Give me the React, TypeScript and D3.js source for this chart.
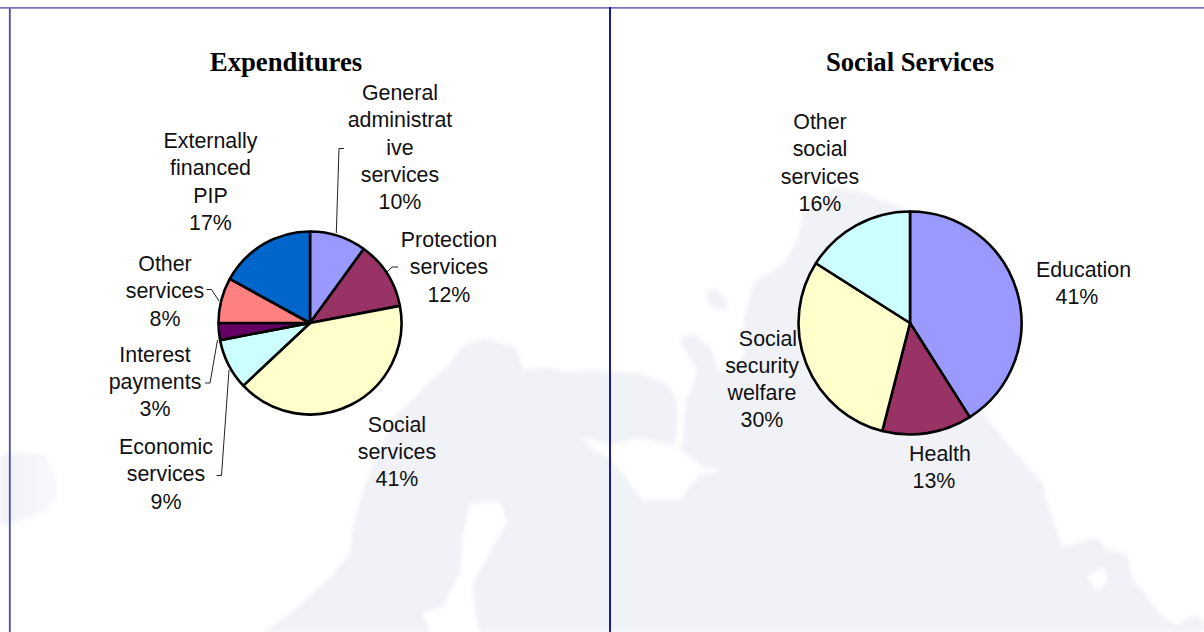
import React from "react";
import * as d3 from "d3";

// Budget shares, in percent, clockwise from twelve o'clock
const expenditureCategories = ["General administrative services", "Protection services", "Social services", "Economic services", "Interest payments", "Other services", "Externally financed PIP"];
const expenditureValues = [10, 12, 41, 9, 3, 8, 17];
const expenditureColors = ["#9999FF", "#993366", "#FFFFCC", "#CCFFFF", "#660066", "#FF8080", "#0066CC"];

const socialCategories = ["Education", "Health", "Social security welfare", "Other social services"];
const socialValues = [41, 13, 30, 16];
const socialColors = ["#9999FF", "#993366", "#FFFFCC", "#CCFFFF"];

type Label = { lines: string[]; x: number; y: number; dx?: number[] };

const LINE_STEP = 27.3;

const expenditureLabels: Label[] = [
  { lines: ["General", "administrat", "ive", "services", "10%"], x: 400, y: 100 },
  { lines: ["Protection", "services", "12%"], x: 449, y: 247 },
  { lines: ["Social", "services", "41%"], x: 397, y: 431.7 },
  { lines: ["Economic", "services", "9%"], x: 166, y: 454 },
  { lines: ["Interest", "payments", "3%"], x: 155, y: 361.5 },
  { lines: ["Other", "services", "8%"], x: 165, y: 271 },
  { lines: ["Externally", "financed", "PIP", "17%"], x: 210.5, y: 148 },
];

const socialLabels: Label[] = [
  { lines: ["Education", "41%"], x: 1083.5, y: 277, dx: [0, -6.5] },
  { lines: ["Health", "13%"], x: 940, y: 461, dx: [0, -6] },
  { lines: ["Social", "security", "welfare", "30%"], x: 762, y: 345.5, dx: [6, 0, 0, 0] },
  { lines: ["Other", "social", "services", "16%"], x: 820, y: 129 },
];

// Elbow connectors from outlying labels to their slices
const leaderLines: [number, number][][] = [
  [[344, 148.5], [339, 148.5], [336.3, 233]],
  [[398, 267], [392, 267], [387, 272]],
  [[206.5, 289.5], [211.5, 289.5], [219, 301]],
  [[205, 383], [210, 383], [217.5, 340]],
  [[216.5, 475.5], [221.5, 475.5], [229, 370]],
];

// Faint backdrop map: landmass, outlying island shapes and inland seas
const landmass: [number, number][] = [
  [263, 632], [295, 610], [330, 577], [350, 553], [353, 527], [363, 490], [380, 450], [397, 413], [413, 400], [427, 383],
  [447, 367], [463, 345], [485, 338], [517, 348], [523, 370], [547, 367], [567, 372], [593, 370], [611, 372], [637, 373],
  [667, 383], [677, 400], [690, 395], [697, 370], [679, 340], [694, 333], [712, 350], [720, 375], [744, 357], [744, 317],
  [754, 283], [784, 263], [797, 240], [804, 213], [834, 187], [861, 192], [881, 200], [904, 207], [950, 300], [983, 413],
  [1013, 450], [1043, 483], [1047, 503], [1063, 547], [1097, 537], [1107, 550], [1127, 553], [1133, 580], [1163, 617],
  [1177, 625], [1193, 615], [1204, 620], [1204, 632],
];
const islands: [number, number][][] = [
  [[706, 292], [716, 288], [726, 300], [727, 310], [714, 308], [708, 302]],
];
const westernShore: [number, number][] = [
  [0, 455], [20, 452], [45, 455], [55, 475], [58, 495], [45, 512], [20, 522], [0, 525],
];
const seas: [number, number][][] = [
  [[470, 503], [500, 502], [507, 523], [493, 547], [473, 583], [475, 613], [480, 632], [430, 632], [422, 613], [443, 607], [460, 573], [463, 533]],
  [[580, 437], [610, 445], [638, 438], [677, 447], [702, 467], [723, 470], [700, 475], [679, 500], [642, 500], [623, 473], [610, 458], [593, 450]],
  [[677, 398], [686, 400], [684, 425], [682, 447], [675, 445], [678, 420]],
  [[1087, 577], [1103, 567], [1108, 580], [1097, 592]],
];

const LAND = "#F0F2F7";

const outline = d3.line<[number, number]>().curve(d3.curveLinearClosed);
const leader = d3.line<[number, number]>();

function Pie({ values, colors, cx, cy, r }: { values: number[]; colors: string[]; cx: number; cy: number; r: number }) {
  const slices = d3.pie<number>().sort(null)(values);
  const arc = d3.arc<d3.PieArcDatum<number>>().innerRadius(0).outerRadius(r);
  return (
    <g transform={`translate(${cx},${cy})`}>
      {slices.map((s, i) => (
        <path key={i} d={arc(s) ?? ""} fill={colors[i]} stroke="#000" strokeWidth={2.6} strokeLinejoin="round" />
      ))}
    </g>
  );
}

function Labels({ items }: { items: Label[] }) {
  return (
    <g fontFamily="'Liberation Sans', Arial, sans-serif" fontSize={21.4} fill="#111" textAnchor="middle">
      {items.map((l, i) =>
        l.lines.map((t, j) => (
          <text key={`${i}-${j}`} x={l.x + (l.dx?.[j] ?? 0)} y={l.y + j * LINE_STEP}>{t}</text>
        ))
      )}
    </g>
  );
}

export default function App() {
  return (
    <svg width={1204} height={632} viewBox="0 0 1204 632" style={{ position: "absolute", left: 0, top: 0, display: "block", background: "#fff" }}>
      <defs>
        <filter id="soft" x="-5%" y="-5%" width="110%" height="110%">
          <feGaussianBlur stdDeviation={2} />
        </filter>
        <linearGradient id="shore" x1="0" x2="1" y1="0" y2="0">
          <stop offset="0" stopColor={LAND} />
          <stop offset="1" stopColor="#F8F9FC" />
        </linearGradient>
      </defs>

      <g filter="url(#soft)">
        <path d={outline(westernShore) ?? ""} fill="url(#shore)" />
        <path d={outline(landmass) ?? ""} fill={LAND} />
        {islands.map((p, i) => <path key={i} d={outline(p) ?? ""} fill={LAND} />)}
        {seas.map((p, i) => <path key={i} d={outline(p) ?? ""} fill="#FFFFFF" />)}
      </g>

      <line x1={9.8} y1={7} x2={9.8} y2={632} stroke="#4A4AB4" strokeWidth={1.8} />
      <line x1={0} y1={7.8} x2={1204} y2={7.8} stroke="#7575B8" strokeWidth={1.8} />
      <line x1={610} y1={7} x2={610} y2={632} stroke="#1A1A9C" strokeWidth={2} />

      <g fontFamily="'Liberation Serif', 'Times New Roman', serif" fontSize={26.7} fontWeight="bold" fill="#000" textAnchor="middle">
        <text x={286} y={71}>Expenditures</text>
        <text x={910} y={71}>Social Services</text>
      </g>

      <g fill="none" stroke="#222" strokeWidth={1}>
        {leaderLines.map((p, i) => <path key={i} d={leader(p) ?? ""} />)}
      </g>

      <Pie values={expenditureValues} colors={expenditureColors} cx={310} cy={323} r={91.5} />
      <Pie values={socialValues} colors={socialColors} cx={910} cy={323} r={111.5} />

      <Labels items={expenditureLabels} />
      <Labels items={socialLabels} />
    </svg>
  );
}
